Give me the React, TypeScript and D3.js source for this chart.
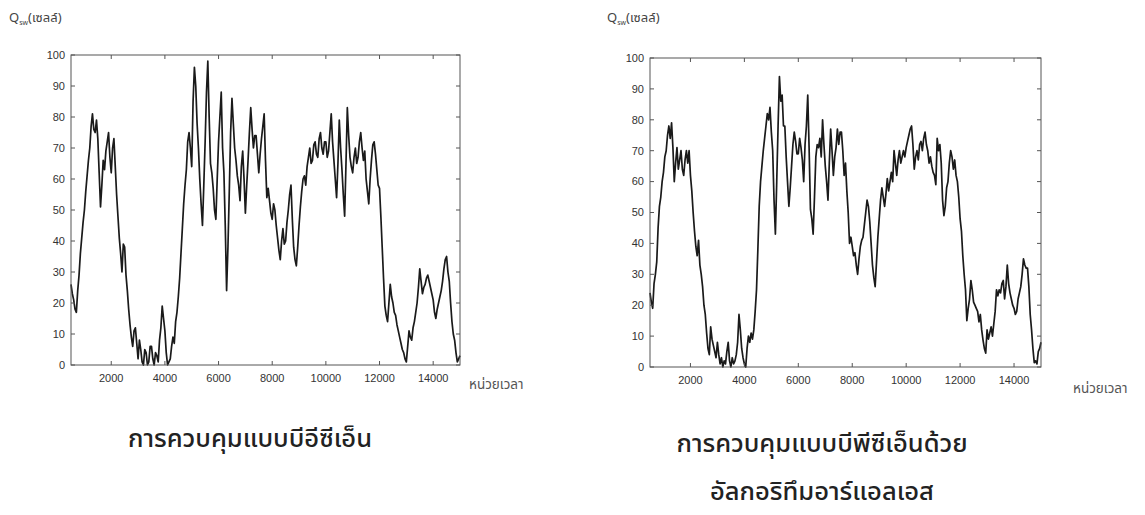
import React, { useEffect, useRef } from 'react';
import * as d3 from 'd3';

// sampling of the simulated queue length (time units)
const timeStart = 500;
const timeStep = 50;
const timeDomain = [500, 15000];
const xTickValues = [2000, 4000, 6000, 8000, 10000, 12000, 14000];
const yTickValues = [0, 10, 20, 30, 40, 50, 60, 70, 80, 90, 100];

// BECN control, queue length Q_sw (cells), one value every 50 time units
const becnQueue = [
    26, 23, 21, 18, 17, 24, 29, 36, 41, 46,
    50, 56, 61, 66, 70, 77, 81, 76, 75, 79,
    73, 62, 51, 58, 66, 63, 69, 72, 75, 67,
    62, 70, 73, 64, 55, 48, 41, 36, 30, 39,
    38, 29, 24, 18, 13, 9, 6, 11, 12, 7,
    2, 8, 5, 1, 0, 5, 4, 0, 1, 6,
    6, 2, 0, 4, 3, 1, 8, 12, 19, 15,
    11, 4, 0, 1, 2, 6, 9, 7, 14, 17,
    22, 28, 36, 44, 52, 58, 63, 72, 75, 70,
    64, 85, 96, 90, 78, 70, 60, 52, 45, 58,
    72, 88, 98, 80, 65, 62, 57, 50, 47, 60,
    72, 80, 88, 70, 62, 45, 24, 38, 56, 75,
    86, 78, 70, 66, 61, 58, 53, 64, 69, 60,
    49, 58, 66, 75, 83, 76, 70, 74, 74, 68,
    62, 68, 73, 77, 81, 66, 54, 57, 53, 49,
    47, 52, 50, 45, 41, 37, 34, 40, 44, 39,
    40, 46, 50, 55, 58, 47, 38, 34, 32, 38,
    45, 51, 56, 60, 61, 58, 64, 67, 70, 65,
    66, 71, 72, 68, 67, 73, 75, 70, 68, 72,
    72, 67, 69, 75, 81, 72, 66, 60, 54, 65,
    79, 70, 63, 55, 48, 65, 83, 74, 67, 64,
    62, 67, 70, 65, 67, 72, 75, 70, 66, 69,
    60, 56, 52, 60, 66, 71, 72, 68, 63, 58,
    57, 48, 38, 28, 19, 16, 14, 20, 26, 22,
    20, 17, 16, 13, 11, 9, 7, 5, 4, 2,
    1, 6, 11, 9, 8, 12, 14, 17, 20, 25,
    31, 27, 23, 25, 26, 28, 29, 27, 25, 23,
    21, 17, 15, 18, 20, 22, 24, 27, 31, 34,
    35, 30, 27, 20, 14, 10, 8, 4, 1, 2,
    3
];

// BPCN control with RLS algorithm
const bpcnRlsQueue = [
    24, 21, 19, 27, 30, 34, 45, 52, 55, 60,
    63, 68, 70, 75, 78, 74, 79, 71, 60, 66,
    71, 64, 67, 70, 64, 62, 67, 70, 66, 70,
    62, 57, 50, 44, 39, 36, 41, 33, 30, 26,
    20, 17, 11, 6, 4, 13, 9, 7, 5, 3,
    8, 4, 1, 3, 0, 2, 1, 5, 8, 2,
    0, 3, 1, 2, 4, 8, 17, 12, 6, 3,
    1, 0, 6, 10, 8, 11, 9, 12, 18, 25,
    38, 52, 60, 65, 70, 74, 78, 82, 80, 84,
    76, 70, 54, 43, 60, 78, 94, 86, 88, 78,
    78, 68, 60, 52, 58, 65, 72, 76, 73, 69,
    69, 74, 71, 67, 60, 72, 78, 88, 71, 51,
    48, 43, 55, 68, 72, 71, 74, 68, 80, 72,
    65, 60, 54, 66, 77, 70, 62, 68, 71, 77,
    72, 76, 76, 70, 62, 66, 57, 50, 40, 42,
    39, 36, 37, 33, 30, 35, 39, 41, 42, 46,
    50, 54, 52, 47, 40, 33, 29, 26, 34, 42,
    48, 54, 58, 55, 52, 56, 61, 57, 60, 63,
    60, 70, 66, 62, 67, 70, 66, 68, 70, 68,
    71, 73, 75, 77, 78, 72, 64, 68, 70, 67,
    72, 73, 70, 74, 76, 72, 70, 66, 68, 65,
    63, 62, 59, 74, 70, 72, 66, 54, 49, 52,
    58, 60, 66, 70, 68, 64, 67, 62, 60, 55,
    48, 44, 36, 30, 25, 15, 19, 22, 28, 25,
    21, 20, 19, 18, 14.6, 17, 12, 8.7, 6, 4.5,
    12, 9, 11, 13, 10, 14, 18, 25, 23, 25,
    24, 27, 28, 22, 26, 33, 27, 24, 22, 20,
    19, 17, 18, 22, 24, 26, 30, 35, 33, 32,
    32, 26, 17, 12, 6, 1.4, 2, 1, 5, 6,
    8
];

const becnTitle = ['การควบคุมแบบบีอีซีเอ็น'];
const bpcnTitle = ['การควบคุมแบบบีพีซีเอ็นด้วย', 'อัลกอริทึมอาร์แอลเอส'];

const thaiFont = "'Noto Sans Thai', 'Noto Sans', 'DejaVu Sans', sans-serif";
const tickFont = "'Liberation Sans', Arial, sans-serif";

const panels = [
    {values: becnQueue, frame: {x: 71, y: 55, w: 389, h: 310}, title: becnTitle, titleX: 250, titleY: 447,
        qLabel: {x: 9, y: 22}, xLabel: {x: 469, y: 389}},
    {values: bpcnRlsQueue, frame: {x: 650, y: 58, w: 391, h: 309}, title: bpcnTitle, titleX: 822, titleY: 452,
        qLabel: {x: 607, y: 22}, xLabel: {x: 1073, y: 393}}
];

const App = () => {
    const anchor = useRef(null);

    useEffect(() => {
        const svg = d3.select(anchor.current);
        svg.selectAll('*').remove();

        panels.forEach((p) => drawPanel(svg, p));

        function drawPanel(root, p) {
            const {x, y, w, h} = p.frame;
            const xScale = d3.scaleLinear().domain(timeDomain).range([x, x + w]);
            const yScale = d3.scaleLinear().domain([0, 100]).range([y + h, y]);

            const g = root.append('g');

            // data line
            const line = d3.line()
                .x((d, i) => xScale(timeStart + i * timeStep))
                .y((d) => yScale(d));
            g.append('path')
                .datum(p.values)
                .attr('d', line)
                .attr('fill', 'none')
                .attr('stroke', '#1a1a1a')
                .attr('stroke-width', 1.7)
                .attr('stroke-linejoin', 'round');

            // frame
            g.append('rect')
                .attr('x', x).attr('y', y).attr('width', w).attr('height', h)
                .attr('fill', 'none').attr('stroke', '#555').attr('stroke-width', 1);

            // ticks inside the frame, on every side
            const tl = 4;
            g.selectAll('.ytick-l').data(yTickValues).enter().append('line')
                .attr('x1', x).attr('x2', x + tl)
                .attr('y1', (d) => yScale(d)).attr('y2', (d) => yScale(d))
                .attr('stroke', '#555');
            g.selectAll('.ytick-r').data(yTickValues).enter().append('line')
                .attr('x1', x + w - tl).attr('x2', x + w)
                .attr('y1', (d) => yScale(d)).attr('y2', (d) => yScale(d))
                .attr('stroke', '#555');
            g.selectAll('.xtick-b').data(xTickValues).enter().append('line')
                .attr('x1', (d) => xScale(d)).attr('x2', (d) => xScale(d))
                .attr('y1', y + h).attr('y2', y + h - tl)
                .attr('stroke', '#555');
            g.selectAll('.xtick-t').data(xTickValues).enter().append('line')
                .attr('x1', (d) => xScale(d)).attr('x2', (d) => xScale(d))
                .attr('y1', y).attr('y2', y + tl)
                .attr('stroke', '#555');

            // tick labels
            g.selectAll('.ylab').data(yTickValues).enter().append('text')
                .attr('x', x - 6).attr('y', (d) => yScale(d)).attr('dy', '0.35em')
                .attr('text-anchor', 'end')
                .style('font-family', tickFont).style('font-size', '11px').attr('fill', '#333')
                .text((d) => d);
            g.selectAll('.xlab').data(xTickValues).enter().append('text')
                .attr('x', (d) => xScale(d)).attr('y', y + h + 17)
                .attr('text-anchor', 'middle')
                .style('font-family', tickFont).style('font-size', '11px').attr('fill', '#333')
                .text((d) => d);

            // y axis label Q_sw(cells)
            const q = g.append('text')
                .attr('x', p.qLabel.x).attr('y', p.qLabel.y)
                .style('font-family', thaiFont).style('font-size', '13px').attr('fill', '#444');
            q.append('tspan').text('Q');
            q.append('tspan').attr('dy', 3).style('font-size', '7px').text('sw');
            q.append('tspan').attr('dy', -3).text('(เซลล์)');

            // x axis label
            g.append('text')
                .attr('x', p.xLabel.x).attr('y', p.xLabel.y)
                .style('font-family', thaiFont).style('font-size', '13.5px').attr('fill', '#555')
                .text('หน่วยเวลา');

            // caption under the panel
            g.selectAll('.caption').data(p.title).enter().append('text')
                .attr('x', p.titleX).attr('y', (d, i) => p.titleY + i * 48)
                .attr('text-anchor', 'middle')
                .style('font-family', thaiFont).style('font-size', '25.5px').style('font-weight', 500)
                .attr('fill', '#222')
                .text((d) => d);
        }
    }, []);

    return <svg ref={anchor} width={1145} height={515}
                style={{position: 'absolute', left: 0, top: 0, background: '#fff'}}/>;
};

export default App;
